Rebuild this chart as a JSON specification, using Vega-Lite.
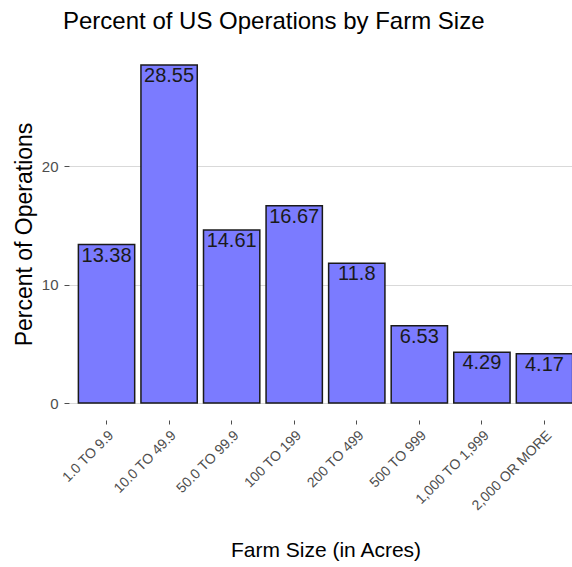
{
  "$schema": "https://vega.github.io/schema/vega-lite/v6.json",
  "autosize": "none",
  "padding": {"left": 69, "top": 48, "right": 0, "bottom": 147},
  "width": 513,
  "height": 372,
  "background": "white",
  "title": {
    "text": "Percent of US Operations by Farm Size",
    "anchor": "start",
    "frame": "group",
    "dx": -6,
    "offset": 14,
    "font": "Liberation Sans",
    "fontSize": 24,
    "fontWeight": "normal",
    "color": "black"
  },
  "config": {
    "view": {"stroke": null},
    "axis": {
      "labelFont": "Liberation Sans",
      "titleFont": "Liberation Sans",
      "labelColor": "#4d4d4d",
      "labelFontSize": 14,
      "titleFontSize": 21,
      "titleFontWeight": "normal",
      "titleColor": "black",
      "tickColor": "#4d4d4d",
      "domain": false
    }
  },
  "data": {
    "values": [
      {"size": "1.0 TO 9.9", "pct": 13.38},
      {"size": "10.0 TO 49.9", "pct": 28.55},
      {"size": "50.0 TO 99.9", "pct": 14.61},
      {"size": "100 TO 199", "pct": 16.67},
      {"size": "200 TO 499", "pct": 11.8},
      {"size": "500 TO 999", "pct": 6.53},
      {"size": "1,000 TO 1,999", "pct": 4.29},
      {"size": "2,000 OR MORE", "pct": 4.17}
    ]
  },
  "encoding": {
    "x": {
      "field": "size",
      "type": "nominal",
      "sort": null,
      "scale": {"paddingInner": 0.1, "paddingOuter": 0.15},
      "axis": {
        "title": "Farm Size (in Acres)",
        "labelAngle": -45,
        "labelAlign": "right",
        "labelBaseline": "top",
        "tickSize": 4,
        "labelPadding": 4,
        "titlePadding": 27,
        "grid": false
      }
    },
    "y": {
      "field": "pct",
      "type": "quantitative",
      "scale": {"domain": [-1.43, 29.98], "nice": false, "zero": false},
      "axis": {
        "title": "Percent of Operations",
        "titleFontSize": 23,
        "labelFontSize": 15,
        "values": [0, 10, 20],
        "tickSize": 5,
        "labelPadding": 6,
        "titlePadding": 5,
        "grid": true,
        "gridColor": "#d9d9d9",
        "gridWidth": 1
      }
    }
  },
  "layer": [
    {
      "mark": {"type": "bar", "fill": "#7b7bff", "stroke": "#1a1a1a", "strokeWidth": 1.5},
      "encoding": {"y2": {"datum": 0}}
    },
    {
      "mark": {"type": "text", "baseline": "top", "align": "center", "dy": 1, "font": "Liberation Sans", "fontSize": 20, "color": "#1a1a1a"},
      "encoding": {"text": {"field": "pct", "type": "quantitative"}}
    }
  ]
}
